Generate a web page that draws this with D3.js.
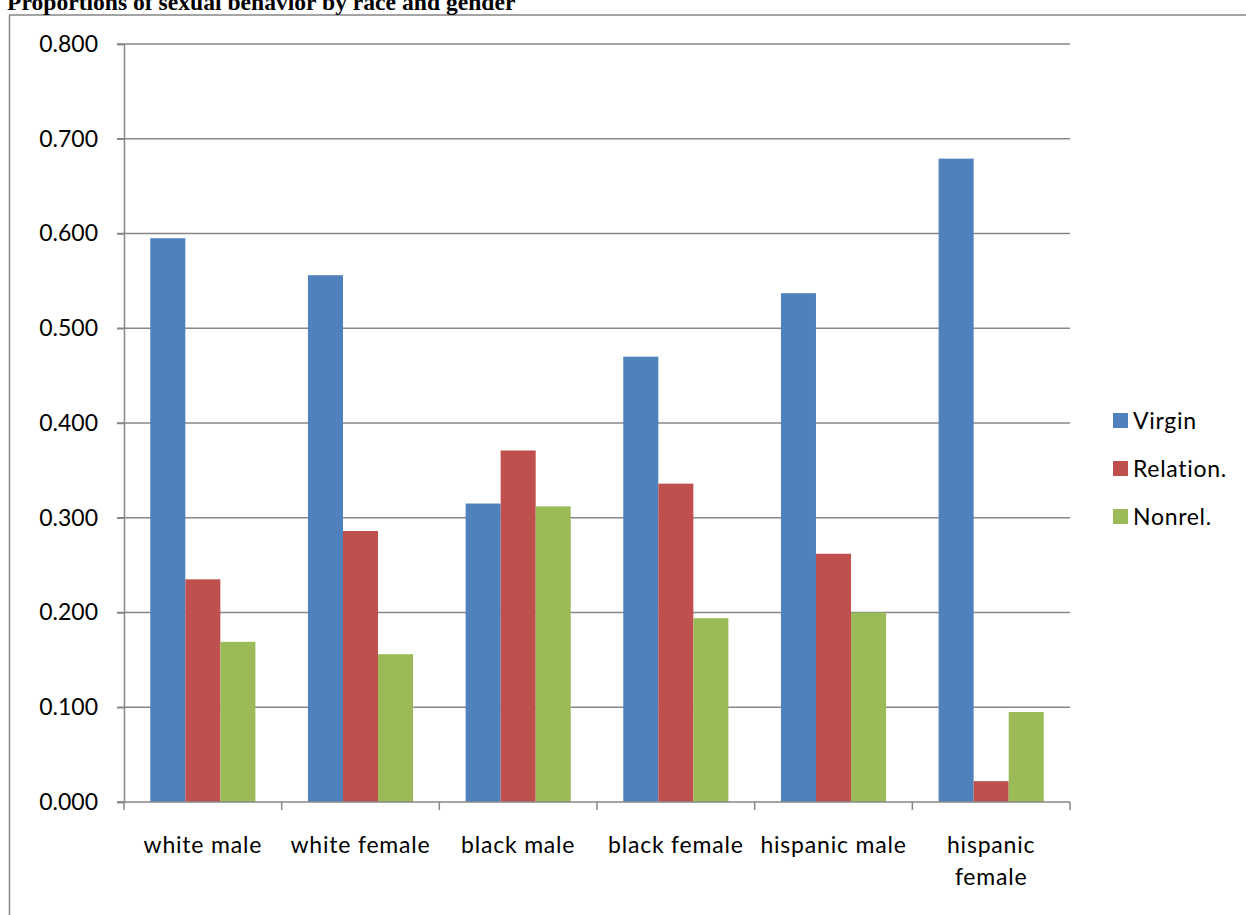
<!DOCTYPE html>
<html>
<head>
<meta charset="utf-8">
<script src="https://cdn.jsdelivr.net/npm/d3@7"></script>
<style>
  html, body { margin: 0; padding: 0; background: #fff; overflow: hidden; }
  svg { display: block; }
</style>
</head>
<body>
<svg id="chart" width="1246" height="915"></svg>
<script>
const title = "Proportions of sexual behavior by race and gender";
const categories = ["white male", "white female", "black male", "black female", "hispanic male", "hispanic female"];
const seriesNames = ["Virgin", "Relation.", "Nonrel."];
const virgin   = [0.595, 0.556, 0.315, 0.470, 0.537, 0.679];
const relation = [0.235, 0.286, 0.371, 0.336, 0.262, 0.022];
const nonrel   = [0.169, 0.156, 0.312, 0.194, 0.200, 0.095];
const yTicks = [0, 0.1, 0.2, 0.3, 0.4, 0.5, 0.6, 0.7, 0.8];
const colors = ["#4F81BD", "#C0504D", "#9BBB59"];

const seriesValues = [virgin, relation, nonrel];
const data = categories.map((c, i) => ({cat: c, vals: seriesNames.map((s, j) => ({name: s, value: seriesValues[j][i], color: colors[j]}))}));

const svg = d3.select("#chart");
const font = "Lato, 'Open Sans', sans-serif";
const gridColor = "#878787";

// outer frame
svg.append("rect").attr("x", 9.5).attr("y", 15).attr("width", 1300).attr("height", 1000)
  .attr("fill", "none").attr("stroke", gridColor).attr("stroke-width", 1.5);

// title
svg.append("text").attr("x", 7).attr("y", 9.5)
  .attr("font-family", "'Liberation Serif', 'Times New Roman', serif")
  .attr("font-weight", "bold").attr("font-size", 23.6).attr("fill", "#000")
  .text(title);

const x = d3.scaleBand().domain(categories).range([124, 1070]).paddingInner(0).paddingOuter(0);
const xs = d3.scaleBand().domain(seriesNames).range([0, x.bandwidth()]).paddingInner(0).paddingOuter(0.75);
const y = d3.scaleLinear().domain([0, 0.8]).range([802, 44]);

// gridlines
svg.append("g").selectAll("line").data(yTicks.filter(t => t > 0)).join("line")
  .attr("x1", 117).attr("x2", 1070)
  .attr("y1", d => y(d)).attr("y2", d => y(d))
  .attr("stroke", gridColor).attr("stroke-width", 1.5);

// y axis
const yAxis = d3.axisLeft(y).tickValues(yTicks).tickFormat(d3.format(".3f")).tickSize(7).tickPadding(19);
const gy = svg.append("g").attr("transform", "translate(124,0)").call(yAxis);
gy.select(".domain").attr("stroke", gridColor).attr("stroke-width", 1.5);
gy.selectAll(".tick line").attr("stroke", gridColor).attr("stroke-width", 1.5);
gy.selectAll(".tick text").attr("font-family", font).attr("font-size", 23).attr("fill", "#000");

// bars
const groups = svg.append("g").selectAll("g").data(data).join("g")
  .attr("transform", d => `translate(${x(d.cat)},0)`);
groups.selectAll("rect").data(d => d.vals).join("rect")
  .attr("x", d => xs(d.name))
  .attr("width", xs.bandwidth())
  .attr("y", d => y(d.value))
  .attr("height", d => y(0) - y(d.value))
  .attr("fill", d => d.color);

// x axis
const xAxis = d3.axisBottom(x).tickSize(0).tickSizeOuter(0).tickFormat("");
const gx = svg.append("g").attr("transform", "translate(0,802)").call(xAxis);
gx.select(".domain").remove();
svg.append("line").attr("x1", 117).attr("x2", 1070).attr("y1", 802).attr("y2", 802)
  .attr("stroke", gridColor).attr("stroke-width", 1.5);
const boundaries = categories.map(c => x(c)).concat([x(categories[categories.length - 1]) + x.bandwidth()]);
svg.append("g").selectAll("line").data(boundaries).join("line")
  .attr("x1", d => d).attr("x2", d => d).attr("y1", 802).attr("y2", 810)
  .attr("stroke", gridColor).attr("stroke-width", 1.5);

// category labels (wrap)
const labelLines = {"hispanic female": ["hispanic", "female"]};
const lab = svg.append("g").selectAll("text").data(categories).join("text")
  .attr("x", d => x(d) + x.bandwidth() / 2)
  .attr("y", 853)
  .attr("text-anchor", "middle")
  .attr("font-family", font).attr("font-size", 23).attr("letter-spacing", 0.8).attr("fill", "#000");
lab.each(function(d) {
  const lines = labelLines[d] || [d];
  const t = d3.select(this);
  lines.forEach((ln, i) => {
    t.append("tspan").attr("x", x(d) + x.bandwidth() / 2).attr("dy", i === 0 ? 0 : 32).text(ln);
  });
});

// legend
const leg = svg.append("g").selectAll("g").data(seriesNames).join("g")
  .attr("transform", (d, i) => `translate(1113,${413 + i * 48})`);
leg.append("rect").attr("width", 15).attr("height", 15).attr("fill", (d, i) => colors[i]);
leg.append("text").attr("x", 20).attr("y", 7.5).attr("dy", "0.35em")
  .attr("font-family", font).attr("font-size", 23).attr("letter-spacing", 0.7).attr("fill", "#000").text(d => d);
</script>
</body>
</html>
